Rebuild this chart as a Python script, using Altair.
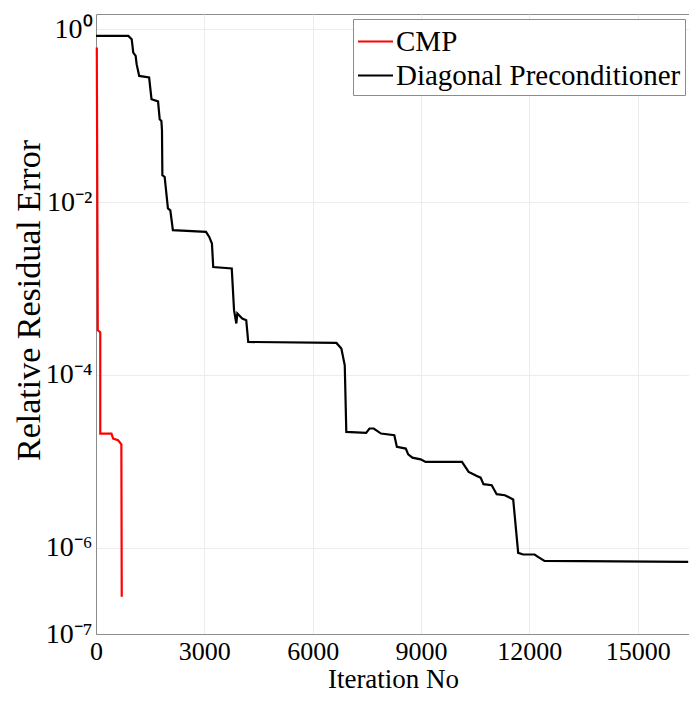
import altair as alt
import pandas as pd

# Diagonal Preconditioner (black) – iteration, relative residual error
diag_iter = [0, 895, 988, 1032, 1098, 1125, 1196, 1471, 1537, 1718, 1764, 1811, 1827, 1838, 1901,
             1992, 2058, 2129, 3046, 3136, 3210, 3246, 3759, 3822, 3886, 3913, 4050, 4160, 4215,
             6657, 6794, 6888, 6931, 7480, 7573, 7691, 7892, 8260, 8331, 8578, 8644, 8762, 8989,
             9127, 10134, 10318, 10408, 10545, 10650, 10729, 10957, 11094, 11322, 11552, 11690,
             11827, 12145, 12238, 12419, 16398]
diag_err = [0.837, 0.837, 0.766, 0.537, 0.491, 0.394, 0.288, 0.276, 0.155, 0.146, 0.0908, 0.0868,
            0.0678, 0.0204, 0.0195, 8.41e-3, 8.03e-3, 4.72e-3, 4.51e-3, 3.94e-3, 3.31e-3, 1.77e-3,
            1.70e-3, 5.60e-4, 3.93e-4, 5.12e-4, 4.49e-4, 4.29e-4, 2.40e-4,
            2.34e-4, 2.01e-4, 1.29e-4, 2.18e-5, 2.13e-5, 2.39e-5, 2.39e-5, 2.09e-5, 2.00e-5,
            1.47e-5, 1.40e-5, 1.20e-5, 1.10e-5, 1.05e-5, 9.82e-6, 9.82e-6, 7.52e-6, 7.21e-6,
            6.76e-6, 6.45e-6, 5.42e-6, 5.27e-6, 4.15e-6, 4.04e-6, 3.61e-6, 8.69e-7, 8.32e-7,
            8.32e-7, 7.80e-7, 7.01e-7, 6.84e-7]

# CMP (red)
cmp_iter = [22, 49, 118, 118, 428, 475, 612, 702, 713]
cmp_err = [0.614, 3.28e-4, 3.11e-4, 2.09e-5, 2.09e-5, 1.83e-5, 1.75e-5, 1.57e-5, 2.69e-7]

series_names = ["CMP", "Diagonal Preconditioner"]
series_colors = ["#ff0000", "#000000"]

x_ticks = [0, 3000, 6000, 9000, 12000, 15000]
y_ticks = [1e-7, 1e-6, 1e-4, 1e-2, 1]

rows = []
for i, (x, y) in enumerate(zip(cmp_iter, cmp_err)):
    rows.append({"series": series_names[0], "iter": x, "err": y, "idx": i})
for i, (x, y) in enumerate(zip(diag_iter, diag_err)):
    rows.append({"series": series_names[1], "iter": x, "err": y, "idx": i})
df = pd.DataFrame(rows)

FONT = "Liberation Serif"

y_label_expr = ("'10' + (datum.value > 0.5 ? '\u2070' : datum.value > 0.005 ? '\u207b\u00b2' : "
                "datum.value > 0.00005 ? '\u207b\u2074' : datum.value > 0.0000005 ? '\u207b\u2076' : '\u207b\u2077')")

chart = alt.Chart(df).mark_line(strokeWidth=2.2, interpolate="linear").encode(
    x=alt.X("iter:Q",
            scale=alt.Scale(domain=[0, 16420], nice=False, zero=False),
            axis=alt.Axis(values=x_ticks, format="d", title="Iteration No",
                          labelFont=FONT, labelFontSize=26, labelColor="black",
                          labelPadding=4, titleFont=FONT, titleFontSize=27,
                          titleFontWeight="normal", titleColor="black",
                          titleBaseline="alphabetic", titleX=297, titleY=53,
                          ticks=False, domainColor="#8c8c8c", gridColor="#ececec",
                          labelFlush=False)),
    y=alt.Y("err:Q",
            scale=alt.Scale(type="log", domain=[1e-7, 1.5], nice=False),
            axis=alt.Axis(values=y_ticks, labelExpr=y_label_expr, title="Relative Residual Error",
                          labelFont=FONT, labelFontSize=28, labelColor="black",
                          labelPadding=4, titleFont=FONT, titleFontSize=34,
                          titleFontWeight="normal", titleColor="black",
                          titleBaseline="alphabetic", titleX=-57, titleY=286, titleAngle=270,
                          ticks=False, domainColor="#8c8c8c", gridColor="#ececec",
                          labelFlush=False)),
    color=alt.Color("series:N",
                    scale=alt.Scale(domain=series_names, range=series_colors),
                    legend=alt.Legend(title=None, orient="none", legendX=257, legendY=5,
                                      fillColor="white", strokeColor="#8c8c8c", padding=4,
                                      rowPadding=-3, labelFont=FONT, labelFontSize=29,
                                      labelColor="black", labelLimit=500, labelOffset=2,
                                      symbolType="stroke", symbolSize=1225,
                                      symbolStrokeWidth=2)),
    detail="series:N",
    order="idx:Q",
).properties(
    width=593,
    height=620,
    padding={"left": 88, "top": 6, "right": 0, "bottom": 60},
    autosize=alt.AutoSizeParams(type="none"),
).configure_view(stroke="#8c8c8c", strokeWidth=1)

chart.save("out.html", embed_options={"renderer": "svg", "actions": False})
